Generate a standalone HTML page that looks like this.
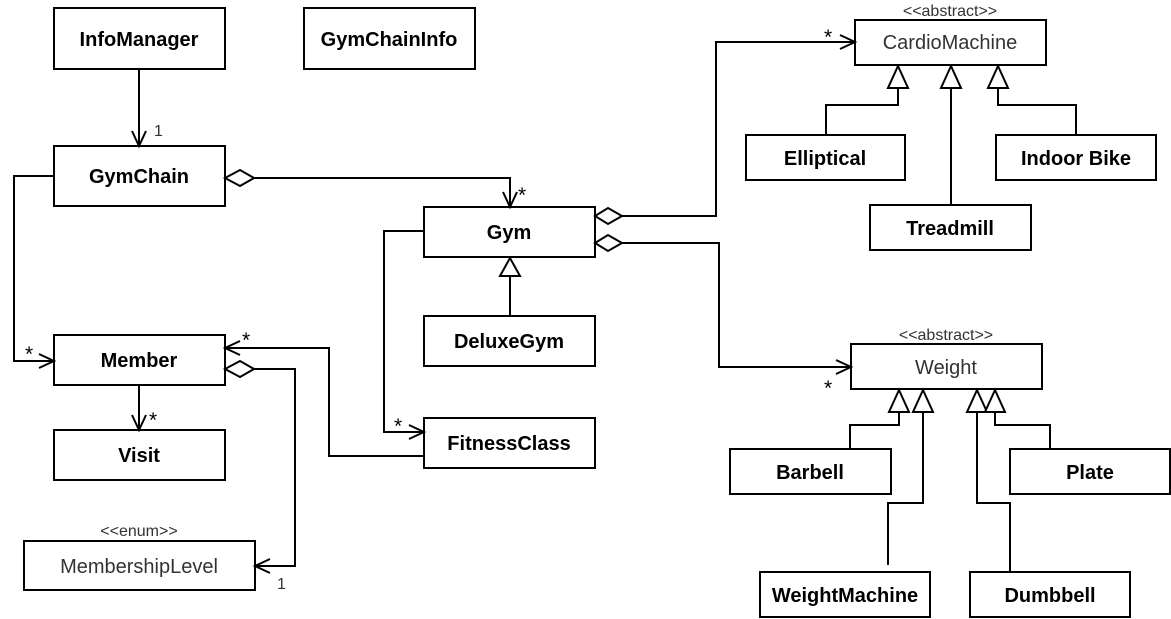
<!DOCTYPE html>
<html><head><meta charset="utf-8"><style>
html,body{margin:0;padding:0;background:#fff;}
svg{display:block;}
text{font-family:"Liberation Sans",Arial,sans-serif;}
.b{font-weight:bold;font-size:20px;fill:#000;}
.n{font-size:20px;fill:#333;}
.s{font-size:16px;fill:#333;}
.m{font-size:21px;fill:#000;}
</style></head><body>
<svg width="1171" height="619" viewBox="0 0 1171 619" xmlns="http://www.w3.org/2000/svg">
<g fill="#fff" stroke="#000" stroke-width="2">
<rect x="54" y="8" width="171" height="61"/>
<rect x="304" y="8" width="171" height="61"/>
<rect x="54" y="146" width="171" height="60"/>
<rect x="424" y="207" width="171" height="50"/>
<rect x="424" y="316" width="171" height="50"/>
<rect x="424" y="418" width="171" height="50"/>
<rect x="54" y="335" width="171" height="50"/>
<rect x="54" y="430" width="171" height="50"/>
<rect x="24" y="541" width="231" height="49"/>
<rect x="855" y="20" width="191" height="45"/>
<rect x="746" y="135" width="159" height="45"/>
<rect x="996" y="135" width="160" height="45"/>
<rect x="870" y="205" width="161" height="45"/>
<rect x="851" y="344" width="191" height="45"/>
<rect x="730" y="449" width="161" height="45"/>
<rect x="1010" y="449" width="160" height="45"/>
<rect x="760" y="572" width="170" height="45"/>
<rect x="970" y="572" width="160" height="45"/>
</g>
<g fill="none" stroke="#000" stroke-width="2">
<path d="M139 69V146M132 131L139 146L146 131"/>
<path d="M254 178H510V207M503 192L510 207L517 192"/>
<path d="M54 176H14V361H54M39 354L54 361L39 368"/>
<path d="M424 231H384V432H424M409 425L424 432L409 439"/>
<path d="M424 456H329V348H225M240 341L225 348L240 355"/>
<path d="M254 369H295V566H255M270 559L255 566L270 573"/>
<path d="M139 385V430M132 415L139 430L146 415"/>
<path d="M510 276V316"/>
<path d="M622 216H716V42H855M840 35L855 42L840 49"/>
<path d="M622 243H719V367H851M836 360L851 367L836 374"/>
<path d="M898 88V105H826V135"/>
<path d="M951 88V205"/>
<path d="M998 88V105H1076V135"/>
<path d="M899 412V425H850V449"/>
<path d="M995 412V425H1050V449"/>
<path d="M923 412V503H888V565"/>
<path d="M977 412V503H1010V572"/>
</g>
<g fill="#fff" stroke="#000" stroke-width="2">
<path d="M225 178L240 170L254 178L240 186Z"/>
<path d="M225 369L240 361L254 369L240 377Z"/>
<path d="M595 216L608 208L622 216L608 224Z"/>
<path d="M595 243L608 235L622 243L608 251Z"/>
<path d="M510 258L500 276H520Z"/>
<path d="M898 66L888 88H908Z"/>
<path d="M951 66L941 88H961Z"/>
<path d="M998 66L988 88H1008Z"/>
<path d="M899 390L889 412H909Z"/>
<path d="M923 390L913 412H933Z"/>
<path d="M977 390L967 412H987Z"/>
<path d="M995 390L985 412H1005Z"/>
</g>
<g text-anchor="middle">
<text class="b" x="139" y="46">InfoManager</text>
<text class="b" x="389" y="46">GymChainInfo</text>
<text class="b" x="139" y="183">GymChain</text>
<text class="b" x="509" y="239">Gym</text>
<text class="b" x="509" y="348">DeluxeGym</text>
<text class="b" x="509" y="450">FitnessClass</text>
<text class="b" x="139" y="367">Member</text>
<text class="b" x="139" y="462">Visit</text>
<text class="n" x="139" y="573">MembershipLevel</text>
<text class="s" x="139" y="536">&lt;&lt;enum&gt;&gt;</text>
<text class="n" x="950" y="49">CardioMachine</text>
<text class="s" x="950" y="16">&lt;&lt;abstract&gt;&gt;</text>
<text class="b" x="825" y="165">Elliptical</text>
<text class="b" x="1076" y="165">Indoor Bike</text>
<text class="b" x="950" y="235">Treadmill</text>
<text class="n" x="946" y="374">Weight</text>
<text class="s" x="946" y="340">&lt;&lt;abstract&gt;&gt;</text>
<text class="b" x="810" y="479">Barbell</text>
<text class="b" x="1090" y="479">Plate</text>
<text class="b" x="845" y="602">WeightMachine</text>
<text class="b" x="1050" y="602">Dumbbell</text>
</g>
<g class="m">
<text class="s" x="154" y="136">1</text>
<text x="518" y="202">*</text>
<text x="25" y="361">*</text>
<text x="242" y="347">*</text>
<text x="149" y="427">*</text>
<text x="394" y="433">*</text>
<text x="824" y="44">*</text>
<text x="824" y="395">*</text>
<text class="s" x="277" y="589">1</text>
</g>
</svg>
</body></html>
